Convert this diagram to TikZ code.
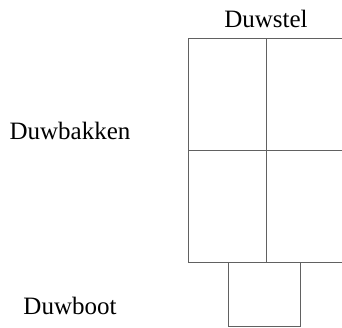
\documentclass[tikz,border=0pt]{standalone}
\usepackage{fontspec}
\setmainfont{Liberation Serif}
\usetikzlibrary{positioning}
\definecolor{lijn}{gray}{0.38}
\tikzstyle{bak} = [rectangle, minimum width=78pt, minimum height=112pt, draw=lijn, line width=0.9pt, inner sep=0pt]
\tikzstyle{boot} = [rectangle, minimum width=72pt, minimum height=64pt, draw=lijn, line width=0.9pt, inner sep=0pt]
\tikzstyle{label} = [font=\fontsize{25}{30}\selectfont, inner sep=0pt, anchor=base]

\begin{document}
\begin{tikzpicture}[x=1pt, y=1pt]
    \useasboundingbox (0,0) rectangle (342,327);

    \node (bak_lb) [bak] at (227,233) {};
    \node (bak_rb) [bak] at (305,233) {};
    \node (bak_lo) [bak] at (227,121) {};
    \node (bak_ro) [bak] at (305,121) {};
    \node (duwboot) [boot] at (264,33) {};

    \node (t_stel) [label] at (266,299.3) {Duwstel};
    \node (t_bakken) [label] at (70,188) {Duwbakken};
    \node (t_boot) [label] at (70,13) {Duwboot};

\end{tikzpicture}
\end{document}
